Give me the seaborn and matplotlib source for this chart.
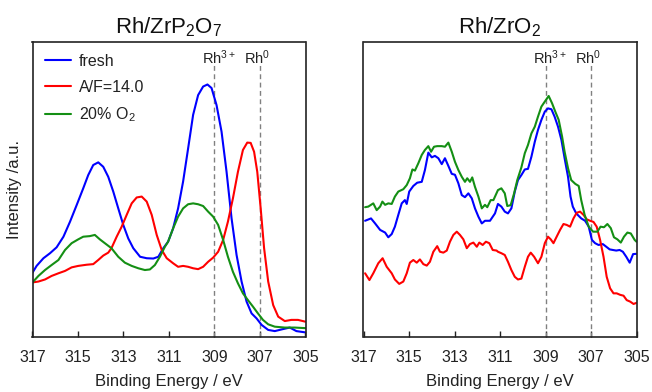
import numpy as np
import pandas as pd
import matplotlib
matplotlib.use("Agg")
import matplotlib.pyplot as plt
import seaborn as sns

# ---------------- data ----------------
# Left panel: Rh/ZrP2O7
zp_fresh_x = [317.0, 316.82, 316.52, 316.23, 315.94, 315.64, 315.35, 315.06, 314.77, 314.55, 314.33, 314.11,
              313.89, 313.67, 313.45, 313.23, 313.01, 312.79, 312.57, 312.27, 311.98, 311.69, 311.47, 311.25,
              311.04, 310.82, 310.6, 310.38, 310.16, 309.94, 309.72, 309.5, 309.31, 309.13, 308.91, 308.69,
              308.47, 308.25, 308.03, 307.81, 307.59, 307.37, 307.15, 306.93, 306.64, 306.35, 305.98, 305.69,
              305.4, 305.04]
zp_fresh_y = [21.8, 24.1, 26.7, 28.4, 30.4, 34.0, 39.1, 44.7, 50.4, 54.9, 58.3, 59.2,
              57.7, 54.3, 49.3, 43.6, 38.0, 33.4, 30.1, 27.2, 26.7, 26.6, 27.2, 30.1,
              32.3, 36.8, 43.6, 52.7, 63.9, 75.3, 82.0, 84.9, 85.6, 84.4, 78.6, 69.6,
              56.0, 40.2, 27.8, 18.8, 12.0, 8.0, 6.3, 4.1, 2.4, 2.0, 2.7, 3.2,
              2.0, 1.6]

zp_af_x = [317.0, 316.74, 316.45, 316.16, 315.86, 315.57, 315.28, 314.99, 314.62, 314.33, 314.11, 313.89,
           313.67, 313.53, 313.3, 313.08, 312.86, 312.64, 312.42, 312.2, 311.98, 311.76, 311.54, 311.32,
           311.1, 310.82, 310.6, 310.38, 310.16, 309.94, 309.72, 309.5, 309.28, 309.06, 308.84, 308.62,
           308.41, 308.19, 307.97, 307.75, 307.56, 307.41, 307.26, 307.12, 306.97, 306.82, 306.64, 306.42,
           306.2, 305.91, 305.62, 305.33, 305.01]
zp_af_y = [18.5, 18.8, 19.5, 20.7, 21.6, 22.4, 23.6, 24.1, 24.5, 24.7, 26.1, 27.6,
           28.6, 30.1, 34.0, 37.4, 41.4, 45.3, 47.3, 47.6, 45.9, 41.4, 34.6, 29.5,
           26.7, 25.0, 23.8, 24.1, 23.8, 23.3, 23.0, 23.8, 25.5, 26.9, 28.9, 32.9,
           39.1, 47.0, 56.0, 63.4, 65.9, 65.8, 62.8, 56.0, 43.6, 30.1, 18.8, 10.8,
           6.9, 5.4, 5.8, 5.8, 5.2]

zp_o2_x = [317.0, 316.74, 316.45, 316.16, 315.86, 315.57, 315.28, 314.99, 314.77, 314.48, 314.26, 314.04,
           313.82, 313.53, 313.23, 312.94, 312.64, 312.35, 312.06, 311.84, 311.62, 311.4, 311.18, 311.04,
           310.82, 310.6, 310.38, 310.16, 309.94, 309.72, 309.5, 309.28, 309.06, 308.84, 308.62, 308.41,
           308.19, 307.97, 307.75, 307.53, 307.31, 307.09, 306.87, 306.64, 306.35, 305.91, 305.47, 305.0]
zp_o2_y = [18.5, 20.7, 22.7, 24.4, 26.1, 29.5, 31.8, 33.1, 34.0, 34.2, 34.6, 33.1,
           31.8, 30.1, 27.2, 25.2, 24.1, 23.3, 22.7, 22.9, 24.4, 27.2, 30.6, 32.3,
           36.8, 40.8, 43.6, 45.0, 45.3, 45.0, 44.4, 42.5, 40.8, 38.0, 32.9, 27.2,
           22.1, 18.2, 14.8, 12.5, 10.3, 8.0, 5.8, 4.3, 3.5, 3.2, 3.2, 3.0]

# Right panel: Rh/ZrO2
zo_fresh_x = [316.93, 316.67, 316.49, 316.27, 316.05, 315.91, 315.76, 315.62, 315.47, 315.32, 315.18, 315.1,
              314.99, 314.81, 314.64, 314.44, 314.3, 314.15, 314.0, 313.86, 313.71, 313.56, 313.42, 313.27,
              313.12, 312.98, 312.83, 312.68, 312.54, 312.39, 312.24, 312.1, 311.95, 311.8, 311.66, 311.44,
              311.22, 311.09, 310.94, 310.79, 310.65, 310.5, 310.35, 310.21, 310.06, 309.91, 309.77, 309.62,
              309.47, 309.33, 309.18, 309.03, 308.89, 308.74, 308.6, 308.45, 308.3, 308.16, 308.01, 307.9,
              307.8, 307.65, 307.43, 307.26, 307.1, 306.96, 306.82, 306.67, 306.48, 306.33, 306.18, 306.04,
              305.89, 305.74, 305.6, 305.45, 305.3, 305.15, 305.0]
zo_fresh_y = [39.4, 40.2, 38.5, 36.3, 35.4, 33.8, 34.9, 37.4, 41.4, 45.3, 46.4, 45.1,
              49.3, 51.2, 52.3, 52.6, 56.6, 62.5, 60.9, 61.4, 60.6, 58.6, 60.6, 58.0,
              55.3, 55.0, 52.1, 48.1, 47.4, 48.7, 47.0, 43.6, 40.8, 38.5, 39.4, 39.4,
              41.9, 45.1, 44.2, 42.5, 41.9, 43.6, 49.3, 53.2, 54.9, 56.8, 57.0, 61.1,
              66.2, 70.2, 73.6, 76.4, 77.5, 77.2, 74.7, 71.3, 66.8, 60.6, 54.3, 47.6,
              44.2, 41.9, 40.2, 39.4, 37.4, 32.9, 31.8, 31.2, 31.5, 30.6, 29.7, 29.5,
              29.3, 29.5, 28.9, 27.2, 25.2, 28.1, 28.2]

zo_af_x = [316.93, 316.74, 316.57, 316.35, 316.16, 315.98, 315.76, 315.62, 315.43, 315.25, 315.1, 314.96,
           314.81, 314.66, 314.52, 314.37, 314.22, 314.08, 313.93, 313.76, 313.64, 313.49, 313.34, 313.2,
           313.05, 312.9, 312.76, 312.61, 312.46, 312.32, 312.17, 312.02, 311.91, 311.76, 311.62, 311.47,
           311.32, 311.15, 311.09, 310.94, 310.79, 310.65, 310.5, 310.35, 310.21, 310.06, 309.91, 309.77,
           309.65, 309.5, 309.33, 309.18, 309.03, 308.89, 308.77, 308.65, 308.51, 308.36, 308.21, 308.07,
           307.92, 307.77, 307.63, 307.48, 307.33, 307.19, 307.04, 306.89, 306.75, 306.6, 306.45, 306.31,
           306.16, 306.01, 305.87, 305.72, 305.57, 305.43, 305.28, 305.13, 304.99]
zo_af_y = [21.6, 19.3, 21.6, 25.0, 26.7, 23.8, 21.6, 19.5, 18.0, 18.8, 21.6, 25.2,
           26.1, 25.2, 26.3, 24.7, 24.2, 25.5, 28.9, 30.8, 28.9, 28.6, 29.3, 32.3,
           34.6, 35.7, 34.6, 33.1, 30.1, 31.5, 32.0, 30.6, 32.0, 31.2, 32.3, 31.8,
           29.5, 29.3, 28.9, 28.4, 27.8, 25.5, 22.7, 20.4, 19.5, 19.8, 23.8, 27.2,
           28.6, 27.2, 25.0, 27.2, 31.8, 34.0, 33.1, 31.8, 34.0, 36.3, 38.3, 38.0,
           37.4, 40.2, 42.1, 42.5, 41.4, 39.9, 39.4, 39.0, 37.4, 32.9, 27.2, 20.4,
           16.5, 14.8, 14.8, 14.3, 14.0, 12.5, 12.0, 11.2, 11.6]

zo_o2_x = [316.93, 316.79, 316.57, 316.42, 316.27, 316.17, 316.05, 315.91, 315.76, 315.62, 315.47, 315.25,
           315.1, 314.96, 314.85, 314.74, 314.59, 314.44, 314.3, 314.15, 314.03, 313.9, 313.76, 313.56,
           313.42, 313.27, 313.12, 312.98, 312.83, 312.68, 312.54, 312.44, 312.32, 312.22, 312.1, 311.95,
           311.8, 311.66, 311.56, 311.41, 311.29, 311.09, 310.94, 310.79, 310.68, 310.53, 310.38, 310.24,
           310.06, 309.91, 309.77, 309.62, 309.47, 309.33, 309.18, 309.03, 308.86, 308.71, 308.57, 308.42,
           308.27, 308.16, 308.01, 307.87, 307.69, 307.54, 307.43, 307.28, 307.1, 306.91, 306.72, 306.58,
           306.43, 306.28, 306.13, 305.99, 305.84, 305.69, 305.55, 305.4, 305.25, 305.08, 305.0]
zo_o2_y = [44.0, 44.2, 45.3, 43.0, 44.2, 45.9, 44.8, 45.3, 45.1, 47.6, 49.3, 50.1,
           51.5, 53.8, 56.8, 56.4, 58.9, 61.7, 63.4, 64.7, 62.8, 64.5, 64.7, 64.7,
           64.5, 65.9, 62.8, 59.4, 56.6, 54.3, 52.6, 53.8, 52.6, 54.1, 50.9, 47.6,
           43.6, 44.8, 44.0, 46.4, 46.4, 49.8, 50.4, 48.7, 44.4, 44.7, 48.7, 53.2,
           57.5, 62.3, 65.1, 69.0, 71.3, 74.7, 78.1, 79.8, 81.7, 79.2, 76.4, 73.6,
           67.9, 62.8, 57.2, 53.2, 51.9, 51.2, 46.4, 41.4, 37.4, 35.7, 35.7, 37.4,
           37.2, 38.3, 36.9, 33.8, 33.1, 32.0, 34.0, 35.4, 35.1, 32.9, 32.3]

series_labels = ["fresh", "A/F=14.0", "20% O$_2$"]
series_colors = ["#0000ff", "#ff0000", "#148f14"]
panel_titles = ["Rh/ZrP$_2$O$_7$", "Rh/ZrO$_2$"]
x_ticks = [317, 315, 313, 311, 309, 307, 305]
ref_lines = [309, 307]
ref_labels = ["Rh$^{3+}$", "Rh$^{0}$"]
ref_label_x = [308.8, 307.12]
x_label = "Binding Energy / eV"
y_label = "Intensity /a.u."

# ---------------- style ----------------
sns.set_theme(style="white")
plt.rcParams["font.family"] = ["Liberation Sans", "DejaVu Sans"]
plt.rcParams["mathtext.fontset"] = "custom"
plt.rcParams["mathtext.rm"] = "Liberation Sans"
plt.rcParams["mathtext.it"] = "Liberation Sans:italic"
plt.rcParams["mathtext.bf"] = "Liberation Sans:bold"
plt.rcParams["mathtext.default"] = "regular"

fig = plt.figure(figsize=(6.52, 3.92), dpi=100)
W, H = 652, 392
ax_l = fig.add_axes([32.5 / W, 1 - 337 / H, 273 / W, 295 / H])
ax_r = fig.add_axes([363.5 / W, 1 - 337 / H, 273 / W, 295 / H])

panels = [
    (ax_l, [(zp_fresh_x, zp_fresh_y), (zp_af_x, zp_af_y), (zp_o2_x, zp_o2_y)]),
    (ax_r, [(zo_fresh_x, zo_fresh_y), (zo_af_x, zo_af_y), (zo_o2_x, zo_o2_y)]),
]

for i, (ax, series) in enumerate(panels):
    for (xs, ys), lab, col in zip(series, series_labels, series_colors):
        df = pd.DataFrame({"x": xs, "y": ys})
        sns.lineplot(data=df, x="x", y="y", ax=ax, color=col, linewidth=1.5,
                     label=lab if i == 0 else None, estimator=None, sort=False)
    for xl, lab, lx in zip(ref_lines, ref_labels, ref_label_x):
        ax.vlines(xl, 0, 92.2, colors="#808080", linestyles=(0, (3.5, 2.5)), linewidth=1.0, zorder=1)
        ax.text(lx, 94.6, lab, ha="center", va="center", fontsize=10.5, color="#222222")
    ax.set_xlim(317, 305)
    ax.set_ylim(0, 100)
    ax.set_xticks(x_ticks)
    ax.set_xticklabels([str(t) for t in x_ticks])
    ax.set_yticks([])
    ax.tick_params(axis="x", direction="in", length=4, width=1, pad=9, labelsize=11.5,
                   bottom=True, top=False, colors="#222222")
    for sp in ax.spines.values():
        sp.set_visible(True)
        sp.set_color("#222222")
        sp.set_linewidth(1.2)
    ax.set_xlabel(x_label, fontsize=12, labelpad=7, color="#222222")
    ax.set_ylabel("")
    ax.set_title(panel_titles[i], fontsize=16, pad=6, color="#111111")

leg = ax_l.legend(loc="upper left", bbox_to_anchor=(0.046, 0.96), borderaxespad=0, borderpad=0,
                  frameon=False, fontsize=11.5, handlelength=1.6, handletextpad=0.5, labelspacing=0.68)
for t in leg.get_texts():
    t.set_color("#222222")

fig.text(15 / W, 1 - 190 / H, y_label, rotation=90, ha="center", va="center", fontsize=12, color="#222222")

fig.savefig("out.png", dpi=100)
